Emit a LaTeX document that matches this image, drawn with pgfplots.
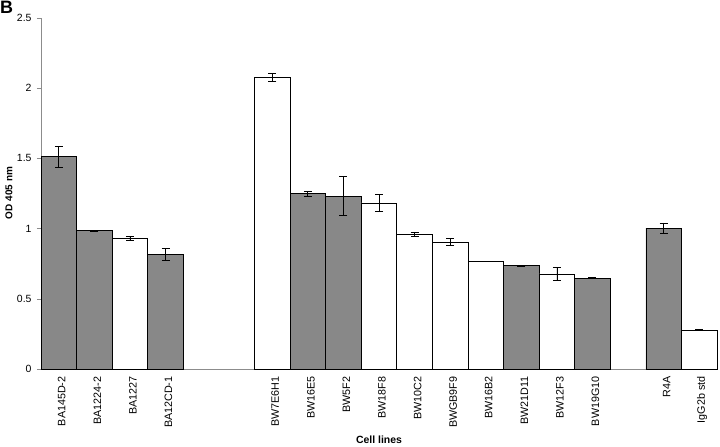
\documentclass[border=0pt]{standalone}
\usepackage{pgfplots}
\pgfplotsset{compat=1.18}
\usepackage{fontspec}
\setmainfont{Liberation Sans}
\definecolor{stip}{RGB}{136,136,136}
\begin{document}
\begin{tikzpicture}
\useasboundingbox (0,0) rectangle (720bp,447bp);
\begin{axis}[
  at={(41bp,78bp)}, anchor=south west,
  scale only axis, width=676bp, height=351bp,
  xmin=-0.5, xmax=18.5, ymin=0, ymax=2.5,
  axis x line*=bottom, axis y line*=left,
  axis line style={black!45, line width=0.6pt},
  /pgf/number format/assume math mode=true,
  ytick={0,0.5,1,1.5,2,2.5},
  yticklabels={0,0.5,1,1.5,2,2.5},
  y tick label style={font=\fontsize{10.5}{12}\selectfont, xshift=-2bp},
  ytick style={black!45, line width=0.6pt},
  tick align=outside, major tick length=4bp,
  xtick={0,...,18},
  xticklabels={BA145D-2,BA1224-2,BA1227,BA12CD-1,,,BW7E6H1,BW16E5,BW5F2,BW18F8,BW10C2,BWGB9F9,BW16B2,BW21D11,BW12F3,BW19G10,,R4A,IgG2b std},
  x tick label style={rotate=90, anchor=east, font=\fontsize{10.8}{12}\selectfont, yshift=-3bp},
  x tick style={draw=none},
  minor xtick={-0.5,0.5,...,18.5},
  minor x tick style={black!45, line width=0.6pt},
  minor tick length=4bp,
  xlabel={\fontsize{10.5}{12}\selectfont\bfseries Cell lines},
  xlabel style={at={(0.5,0)}, anchor=center, yshift=-71bp},
  clip=false,
]
\addplot[ybar, bar width=1, bar shift=0pt, fill=stip, draw=black, line width=0.6pt,
  error bars/.cd, y dir=both, y explicit,
  error bar style={black, line width=0.7pt},
  error mark options={rotate=90, mark size=4bp, black, line width=0.7pt}]
  coordinates {
  (0,1.512) +- (0,0.075)
  (1,0.985) +- (0,0.002)
  (3,0.816) +- (0,0.04)
  (7,1.249) +- (0,0.016)
  (8,1.232) +- (0,0.137)
  (13,0.736) +- (0,0.002)
  (15,0.647) +- (0,0.004)
  (17,1.004) +- (0,0.036)
  };
\addplot[ybar, bar width=1, bar shift=0pt, fill=white, draw=black, line width=0.6pt,
  error bars/.cd, y dir=both, y explicit,
  error bar style={black, line width=0.7pt},
  error mark options={rotate=90, mark size=4bp, black, line width=0.7pt}]
  coordinates {
  (2,0.93) +- (0,0.017)
  (6,2.08) +- (0,0.028)
  (9,1.183) +- (0,0.06)
  (10,0.96) +- (0,0.015)
  (11,0.905) +- (0,0.026)
  (12,0.767) +- (0,0.002)
  (14,0.678) +- (0,0.046)
  (18,0.277) +- (0,0.005)
  };
\end{axis}
\node[anchor=north west, inner sep=0pt, font=\fontsize{18}{20}\selectfont\bfseries] at (0bp,446bp) {B};
\node[rotate=90, inner sep=0pt, font=\fontsize{10}{12}\selectfont\bfseries] at (9bp,254bp) {OD 405 nm};
\end{tikzpicture}
\end{document}
